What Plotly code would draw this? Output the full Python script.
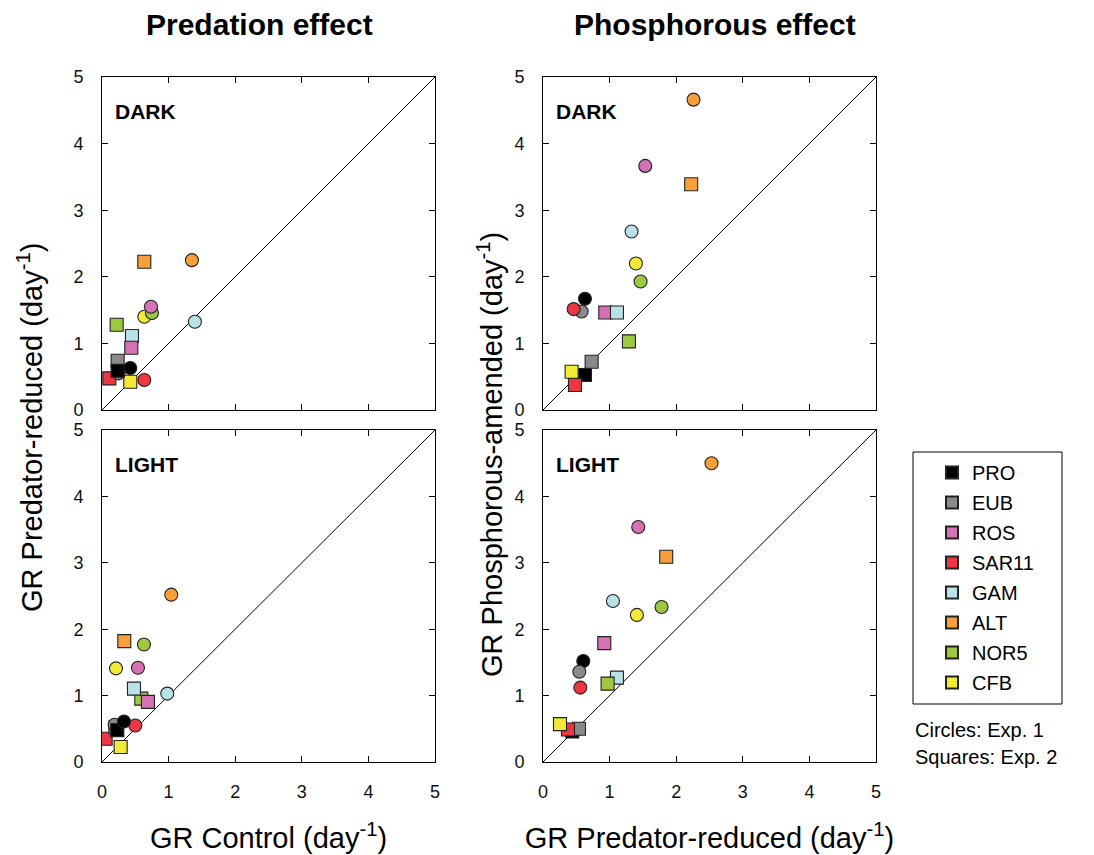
import plotly.graph_objects as go

# ---------------- data ----------------
TAXA = ["PRO", "EUB", "ROS", "SAR11", "GAM", "ALT", "NOR5", "CFB"]
COLORS = ["#000000", "#8a8a8c", "#d472b4", "#ee3542", "#b9e2e6", "#f89e3b", "#9dc83f", "#f2ea36"]

# Predation effect - DARK  (x: GR Control, y: GR Predator-reduced)
PRED_DARK_E1_X = [0.425, 0.25, 0.735, 0.635, 1.395, 1.35, 0.75, 0.635]
PRED_DARK_E1_Y = [0.63, 0.55, 1.55, 0.45, 1.325, 2.25, 1.455, 1.40]
PRED_DARK_E2_X = [0.235, 0.235, 0.44, 0.11, 0.45, 0.635, 0.22, 0.425]
PRED_DARK_E2_Y = [0.59, 0.74, 0.935, 0.475, 1.11, 2.225, 1.28, 0.425]

# Predation effect - LIGHT
PRED_LIGHT_E1_X = [0.33, 0.19, 0.54, 0.50, 0.98, 1.04, 0.63, 0.21]
PRED_LIGHT_E1_Y = [0.61, 0.56, 1.42, 0.55, 1.03, 2.52, 1.77, 1.41]
PRED_LIGHT_E2_X = [0.23, 0.20, 0.69, 0.055, 0.48, 0.335, 0.59, 0.28]
PRED_LIGHT_E2_Y = [0.48, 0.52, 0.905, 0.35, 1.105, 1.82, 0.955, 0.225]

# Phosphorous effect - DARK (x: GR Predator-reduced, y: GR Phosphorous-amended)
PHOS_DARK_E1_X = [0.63, 0.58, 1.535, 0.46, 1.33, 2.26, 1.465, 1.395]
PHOS_DARK_E1_Y = [1.67, 1.48, 3.665, 1.515, 2.68, 4.66, 1.93, 2.20]
PHOS_DARK_E2_X = [0.63, 0.73, 0.935, 0.48, 1.11, 2.225, 1.29, 0.43]
PHOS_DARK_E2_Y = [0.525, 0.725, 1.465, 0.375, 1.465, 3.39, 1.03, 0.575]

# Phosphorous effect - LIGHT
PHOS_LIGHT_E1_X = [0.605, 0.545, 1.43, 0.56, 1.05, 2.53, 1.78, 1.41]
PHOS_LIGHT_E1_Y = [1.52, 1.36, 3.54, 1.12, 2.425, 4.50, 2.335, 2.215]
PHOS_LIGHT_E2_X = [0.44, 0.54, 0.92, 0.375, 1.11, 1.85, 0.97, 0.255]
PHOS_LIGHT_E2_Y = [0.46, 0.50, 1.79, 0.49, 1.27, 3.09, 1.18, 0.57]

DIAG = [0, 5]
TICKS = [0, 1, 2, 3, 4, 5]

FONT = "Liberation Sans, Arial, Helvetica, sans-serif"
W, H = 1094, 855

# ---------------- layout geometry (pixels) ----------------
def px_x(p):
    return p / W

def px_y(p):
    return 1 - p / H

COL_X = [(102, 435), (543, 876)]
ROW_Y = [(77, 410), (430, 762)]

fig = go.Figure()

panels = [
    # (row, col, label, e1x, e1y, e2x, e2y, reverse order)
    (0, 0, "DARK", PRED_DARK_E1_X, PRED_DARK_E1_Y, PRED_DARK_E2_X, PRED_DARK_E2_Y, True),
    (0, 1, "DARK", PHOS_DARK_E1_X, PHOS_DARK_E1_Y, PHOS_DARK_E2_X, PHOS_DARK_E2_Y, False),
    (1, 0, "LIGHT", PRED_LIGHT_E1_X, PRED_LIGHT_E1_Y, PRED_LIGHT_E2_X, PRED_LIGHT_E2_Y, True),
    (1, 1, "LIGHT", PHOS_LIGHT_E1_X, PHOS_LIGHT_E1_Y, PHOS_LIGHT_E2_X, PHOS_LIGHT_E2_Y, False),
]

annotations = []
layout_axes = {}
MSIZE = 13
EDGE = dict(color="#222222", width=1.1)

for i, (r, c, label, e1x, e1y, e2x, e2y, rev) in enumerate(panels):
    n = i + 1
    xa = "x" if n == 1 else f"x{n}"
    ya = "y" if n == 1 else f"y{n}"
    # diagonal 1:1 line
    fig.add_trace(go.Scatter(x=DIAG, y=DIAG, mode="lines", line=dict(color="black", width=1),
                             xaxis=xa, yaxis=ya, showlegend=False, hoverinfo="skip"))
    order = list(range(len(TAXA)))
    if rev:
        order = order[::-1]
    for k in order:
        fig.add_trace(go.Scatter(
            x=[e2x[k], e1x[k]], y=[e2y[k], e1y[k]], mode="markers",
            marker=dict(symbol=["square", "circle"], size=MSIZE, color=COLORS[k], line=EDGE),
            xaxis=xa, yaxis=ya, showlegend=False, name=TAXA[k]))
    xd = [px_x(COL_X[c][0]), px_x(COL_X[c][1])]
    yd = [px_y(ROW_Y[r][1]), px_y(ROW_Y[r][0])]
    axis_common = dict(range=[0, 5], tickvals=TICKS, ticks="inside", ticklen=6, tickwidth=1,
                       tickcolor="black", showline=True, linecolor="black", linewidth=1,
                       mirror="ticks", showgrid=False, zeroline=False, automargin=False,
                       tickfont=dict(family=FONT, size=18, color="#111111"))
    xkey = "xaxis" if n == 1 else f"xaxis{n}"
    ykey = "yaxis" if n == 1 else f"yaxis{n}"
    xdict = dict(axis_common, domain=xd, anchor=ya, showticklabels=(r == 1), ticklabelstandoff=13)
    if r == 1:
        xdict["title"] = dict(
            text="GR Control (day<sup>-1</sup>)" if c == 0 else "GR Predator-reduced (day<sup>-1</sup>)",
            font=dict(family=FONT, size=29, color="black"), standoff=27)
    ydict = dict(axis_common, domain=yd, anchor=xa, showticklabels=True, ticklabelstandoff=14)
    layout_axes[xkey] = xdict
    layout_axes[ykey] = ydict
    annotations.append(dict(text=f"<b>{label}</b>", xref=f"{xa} domain", yref=f"{ya} domain",
                            x=0.033, y=0.896, xanchor="left", yanchor="middle", showarrow=False,
                            font=dict(family=FONT, size=21, color="black")))

# legend-only traces
for k, t in enumerate(TAXA):
    fig.add_trace(go.Scatter(x=[None], y=[None], mode="markers", name=t, legendgroup=t,
                             marker=dict(symbol="square", size=12, color=COLORS[k], line=EDGE),
                             showlegend=True))

# column titles
annotations.append(dict(text="<b>Predation effect</b>", xref="paper", yref="paper",
                        x=px_x(259), y=px_y(25), xanchor="center", yanchor="middle", showarrow=False,
                        font=dict(family=FONT, size=30, color="black")))
annotations.append(dict(text="<b>Phosphorous effect</b>", xref="paper", yref="paper",
                        x=px_x(715), y=px_y(25), xanchor="center", yanchor="middle", showarrow=False,
                        font=dict(family=FONT, size=30, color="black")))
# y titles
annotations.append(dict(text="GR Predator-reduced (day<sup>-1</sup>)", xref="paper", yref="paper",
                        x=px_x(30), y=px_y(428), xanchor="center", yanchor="middle", textangle=-90,
                        showarrow=False, font=dict(family=FONT, size=29, color="black")))
annotations.append(dict(text="GR Phosphorous-amended (day<sup>-1</sup>)", xref="paper", yref="paper",
                        x=px_x(490), y=px_y(455), xanchor="center", yanchor="middle", textangle=-90,
                        showarrow=False, font=dict(family=FONT, size=29, color="black")))
# experiment note
annotations.append(dict(text="Circles: Exp. 1", xref="paper", yref="paper", x=px_x(913), y=px_y(730),
                        xanchor="left", yanchor="middle", showarrow=False,
                        font=dict(family=FONT, size=20, color="black")))
annotations.append(dict(text="Squares: Exp. 2", xref="paper", yref="paper", x=px_x(913), y=px_y(757),
                        xanchor="left", yanchor="middle", showarrow=False,
                        font=dict(family=FONT, size=20, color="black")))

fig.update_layout(
    width=W, height=H, margin=dict(l=0, r=0, t=0, b=0),
    paper_bgcolor="white", plot_bgcolor="white",
    font=dict(family=FONT, color="black"),
    annotations=annotations,
    shapes=[dict(type="rect", xref="paper", yref="paper", x0=px_x(913), x1=px_x(1062),
                 y0=px_y(704), y1=px_y(452), line=dict(color="black", width=1), fillcolor="rgba(0,0,0,0)")],
    legend=dict(x=px_x(932), y=px_y(453), xanchor="left", yanchor="top", bgcolor="rgba(0,0,0,0)",
                borderwidth=0, font=dict(family=FONT, size=20, color="black"), tracegroupgap=1,
                itemsizing="constant"),
    showlegend=True,
    **layout_axes,
)

fig.write_html("out.html")
